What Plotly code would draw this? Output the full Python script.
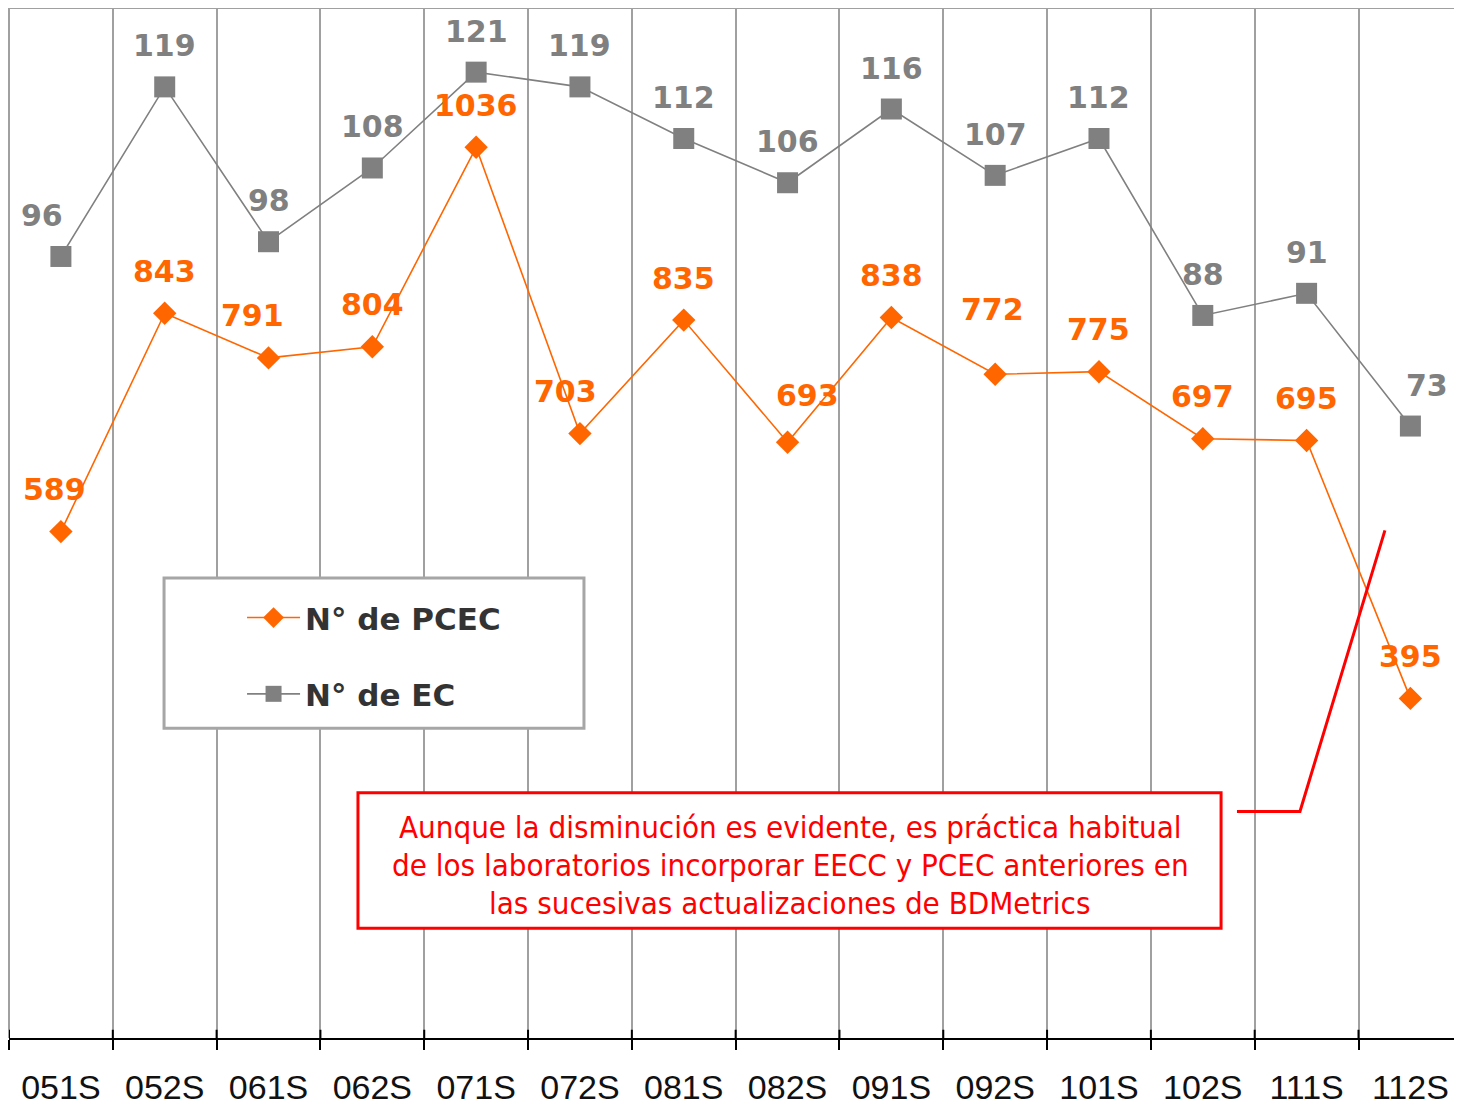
import plotly.graph_objects as go

periodos = ["051S", "052S", "061S", "062S", "071S", "072S", "081S",
            "082S", "091S", "092S", "101S", "102S", "111S", "112S"]
pcec = [589, 843, 791, 804, 1036, 703, 835, 693, 838, 772, 775, 697, 695, 395]
ec = [96, 119, 98, 108, 121, 119, 112, 106, 116, 107, 112, 88, 91, 73]
nombres = ["N° de PCEC", "N° de EC"]
nota = ["Aunque la disminución es evidente, es práctica habitual",
        "de los laboratorios incorporar EECC y PCEC anteriores en",
        "las sucesivas actualizaciones de BDMetrics"]

NARANJA = "#ff6600"
GRIS = "#808080"
ROJO = "#ff0000"
REJILLA = "#a0a0a0"

# label nudges (px) where the original labels sit off-centre
pcec_dx = {0: -6, 2: -16, 5: -14, 7: 20, 9: -3}
pcec_dy = {7: 47, 9: 65}
ec_dx = {0: -19, 13: 17}

fig = go.Figure()
fig.add_trace(go.Scatter(
    x=periodos, y=pcec, name=nombres[0], yaxis="y", legendgroup="a",
    mode="lines+markers", line=dict(color=NARANJA, width=1.6),
    marker=dict(symbol="diamond", size=18, color=NARANJA)))
fig.add_trace(go.Scatter(
    x=periodos, y=ec, name=nombres[1], yaxis="y2", legendgroup="b",
    mode="lines+markers", line=dict(color=GRIS, width=1.6),
    marker=dict(symbol="square", size=21, color=GRIS)))

anns = []
for i, v in enumerate(pcec):
    anns.append(dict(x=periodos[i], y=v, yref="y", text=str(v), showarrow=False,
                     xshift=pcec_dx.get(i, 0), yshift=pcec_dy.get(i, 42),
                     font=dict(family="DejaVu Sans", size=30, color=NARANJA, weight="bold")))
for i, v in enumerate(ec):
    anns.append(dict(x=periodos[i], y=v, yref="y2", text=str(v), showarrow=False,
                     xshift=ec_dx.get(i, 0), yshift=41,
                     font=dict(family="DejaVu Sans", size=30, color=GRIS, weight="bold")))

line_y = [0.2085, 0.1719, 0.1354]
for t, yy in zip(nota, line_y):
    anns.append(dict(x=0.5405, y=yy, xref="paper", yref="paper", text=t, showarrow=False,
                     yshift=-24,
                     font=dict(family="DejaVu Sans Condensed", size=31, color=ROJO)))

shapes = [
    dict(type="line", xref="paper", yref="paper", x0=0, x1=1, y0=1, y1=1,
         line=dict(color=REJILLA, width=2)),
    dict(type="line", xref="paper", yref="paper", x0=0, x1=0, y0=0, y1=1,
         line=dict(color=REJILLA, width=2), layer="below"),
    # legend frame
    dict(type="rect", xref="paper", yref="paper", x0=0.1073, x1=0.3979, y0=0.3007, y1=0.4467,
         line=dict(color="#a6a6a6", width=3), fillcolor="white", layer="above"),
    # note box and connector
    dict(type="rect", xref="paper", yref="paper", x0=0.2415, x1=0.8388, y0=0.1066, y1=0.2382,
         line=dict(color=ROJO, width=3), fillcolor="white", layer="above"),
    dict(type="path", xref="paper", yref="paper",
         path="M 0.8498 0.2200 L 0.8934 0.2200 L 0.9522 0.4928",
         line=dict(color=ROJO, width=3)),
]
# upper half of the crossing tick marks at category boundaries
for k in range(len(periodos)):
    shapes.append(dict(type="line", xref="x", yref="paper", x0=k - 0.5, x1=k - 0.5,
                       y0=0, y1=0.008, line=dict(color="black", width=2)))

fig.update_layout(
    width=1446, height=1098,
    margin=dict(l=1, r=0, t=0, b=57),
    paper_bgcolor="white", plot_bgcolor="white",
    annotations=anns, shapes=shapes,
    xaxis=dict(type="category", tickson="boundaries", showgrid=True,
               gridcolor=REJILLA, gridwidth=2,
               showline=True, linecolor="black", linewidth=2,
               ticks="outside", ticklen=10, tickwidth=2, tickcolor="black",
               ticklabelstandoff=18,
               tickfont=dict(family="Liberation Sans", size=34, color="#111111"),
               range=[-0.5, 13.42], fixedrange=True),
    yaxis=dict(range=[0, 1198], visible=False),
    yaxis2=dict(range=[-10, 129.7], visible=False, overlaying="y", side="right"),
    showlegend=True,
    legend=dict(x=0.1073, y=0.4341, xanchor="left", yanchor="top",
                bgcolor="rgba(0,0,0,0)", borderwidth=0,
                font=dict(family="DejaVu Sans", size=31, color="#333333", weight="bold"),
                tracegroupgap=33, indentation=78, itemwidth=53),
)

fig.write_html("out.html")
